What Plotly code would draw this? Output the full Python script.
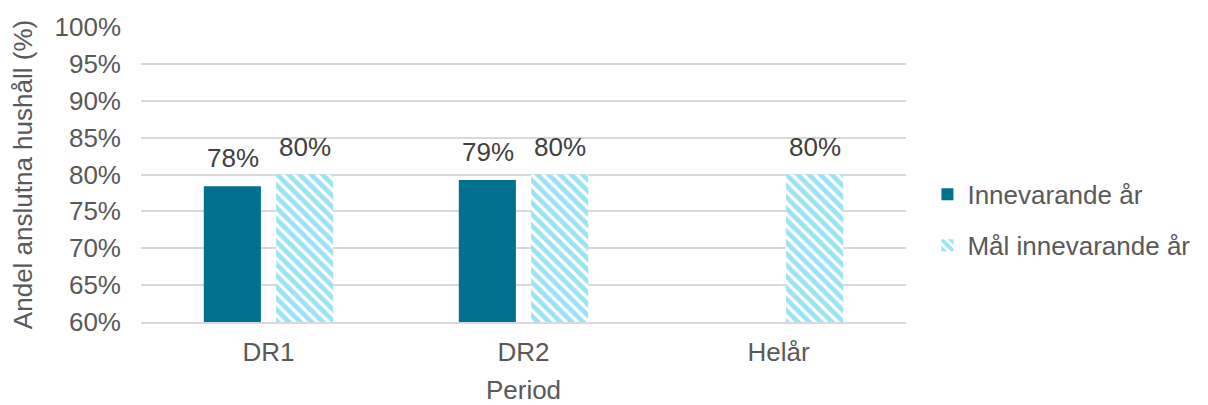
import plotly.graph_objects as go

categories = ["DR1", "DR2", "Helår"]
innevarande = [78.4, 79.25, None]
mal = [80, 80, 80]
tick_vals = [60, 65, 70, 75, 80, 85, 90, 95, 100]
tick_text = [f"{v}%" for v in tick_vals]

font_fam = "Liberation Sans, Arial, sans-serif"
txt = "#595959"
FS = 26
BAR_OFFSET = 36  # px half-distance between grouped bar centres

fig = go.Figure()
fig.add_trace(go.Bar(
    x=categories, y=innevarande, name="Innevarande år", legendgroup="a",
    marker=dict(color="#00728F", line=dict(width=0)),
))
fig.add_trace(go.Bar(
    x=categories, y=mal, name="Mål innevarande år", legendgroup="b",
    marker=dict(color="white", line=dict(width=0),
                pattern=dict(shape="\\", fgcolor="#38C6F0", bgcolor="white",
                             size=8, solidity=0.6, fillmode="overlay")),
))

annotations = []
for series, shift in ((innevarande, -BAR_OFFSET), (mal, BAR_OFFSET)):
    for cat, v in zip(categories, series):
        if v is None:
            continue
        annotations.append(dict(
            x=cat, y=v, xref="x", yref="y", text=f"{v:.0f}%",
            showarrow=False, xshift=shift, yshift=11, yanchor="bottom",
            font=dict(size=FS, color="#404040", family=font_fam),
        ))

fig.update_layout(
    width=1208, height=405,
    margin=dict(l=133, r=310, t=19, b=91),
    paper_bgcolor="white", plot_bgcolor="white",
    barmode="group", bargap=0.433, bargroupgap=0.21,
    font=dict(family=font_fam, size=FS, color=txt),
    showlegend=True,
    annotations=annotations,
    legend=dict(x=1.028, y=0.346, xanchor="left", yanchor="middle",
                font=dict(size=FS, color=txt), tracegroupgap=14,
                traceorder="grouped", itemwidth=30),
    xaxis=dict(
        title=dict(text="Period", font=dict(size=FS, color=txt), standoff=15),
        tickfont=dict(size=FS, color=txt),
        showline=True, linecolor="#D9D9D9", linewidth=1.5,
        ticks="", showgrid=False, automargin=False, ticklabelstandoff=6,
    ),
    yaxis=dict(
        title=dict(text="Andel anslutna hushåll (%)", font=dict(size=FS, color=txt), standoff=22),
        range=[60, 100], tickvals=tick_vals, ticktext=tick_text,
        tickfont=dict(size=FS, color=txt),
        showgrid=True, gridcolor="#D9D9D9", gridwidth=1.5,
        zeroline=False, showline=False, ticks="", automargin=False,
        ticklabelstandoff=19,
    ),
)

fig.write_html("out.html")
